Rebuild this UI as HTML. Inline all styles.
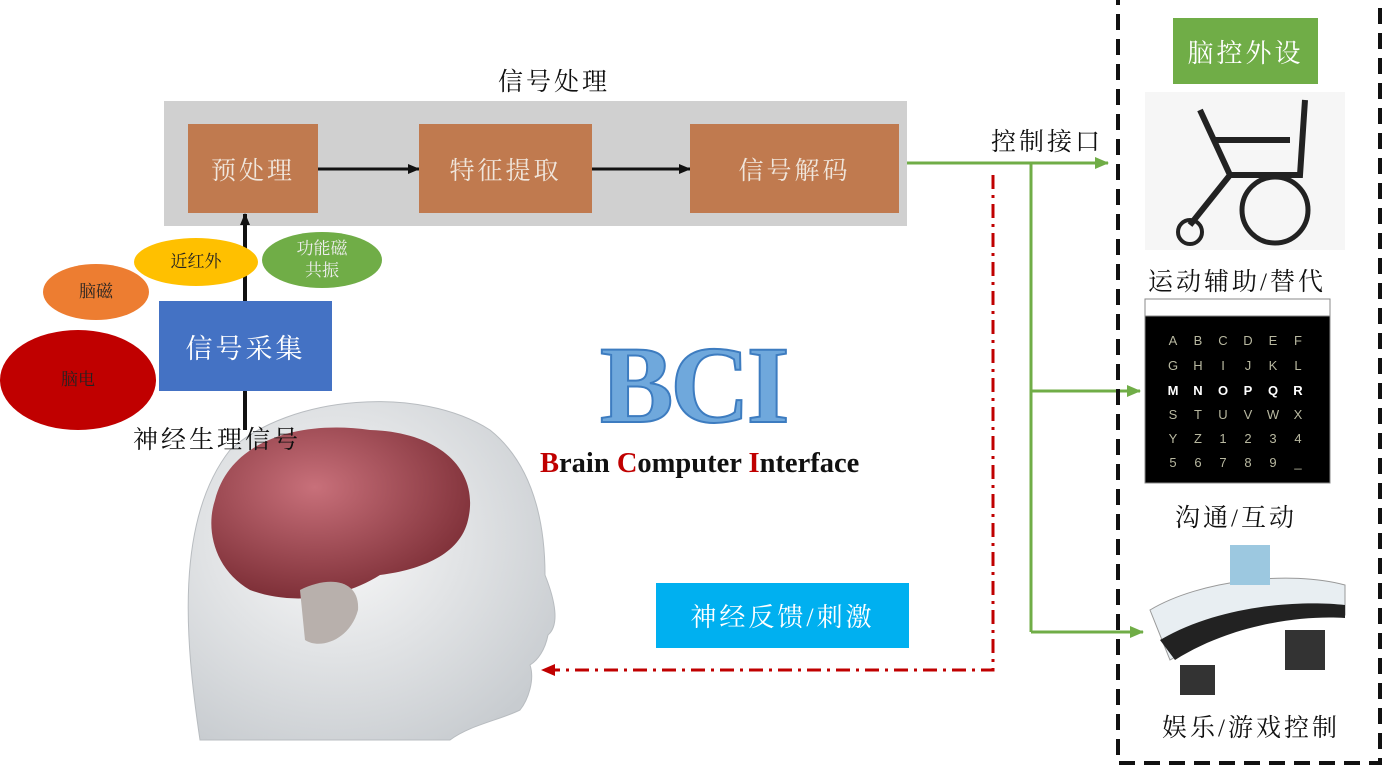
<!DOCTYPE html>
<html><head><meta charset="utf-8"><style>
body{margin:0;width:1386px;height:767px;background:#fff;position:relative;overflow:hidden;font-family:"Liberation Serif","Noto Serif CJK SC","Noto Sans CJK SC",serif}
.a{position:absolute;z-index:1}
.box{position:absolute;z-index:1;display:flex;align-items:center;justify-content:center;color:#f0e6dc;font-size:25px;letter-spacing:3px}
.t{position:absolute;z-index:1;font-size:25px;letter-spacing:3px;color:#111;white-space:nowrap}
.el{position:absolute;z-index:1;border-radius:50%;display:flex;align-items:center;justify-content:center;text-align:center;font-size:17px;line-height:22px}
svg{position:absolute;left:0;top:0;z-index:0}
</style></head><body>
<svg width="1386" height="767">
<defs>
<marker id="ab" markerWidth="12" markerHeight="10" refX="11" refY="5" orient="auto" markerUnits="userSpaceOnUse"><path d="M0,0L12,5L0,10z" fill="#111"/></marker>
<marker id="ag" markerWidth="14" markerHeight="12" refX="13" refY="6" orient="auto" markerUnits="userSpaceOnUse"><path d="M0,0L14,6L0,12z" fill="#70ad47"/></marker>
<marker id="ar" markerWidth="14" markerHeight="12" refX="13" refY="6" orient="auto" markerUnits="userSpaceOnUse"><path d="M0,0L14,6L0,12z" fill="#c00000"/></marker>
<radialGradient id="hg" cx="0.4" cy="0.4" r="0.7"><stop offset="0" stop-color="#fafafa"/><stop offset="1" stop-color="#c8ccd0"/></radialGradient>
<radialGradient id="bg" cx="0.4" cy="0.35" r="0.7"><stop offset="0" stop-color="#c8707a"/><stop offset="1" stop-color="#7a2c34"/></radialGradient>
</defs>
<rect x="164" y="101" width="743" height="125" fill="#d0d0d0"/>
<line x1="318" y1="169" x2="419" y2="169" stroke="#111" stroke-width="3" marker-end="url(#ab)"/>
<line x1="592" y1="169" x2="690" y2="169" stroke="#111" stroke-width="3" marker-end="url(#ab)"/>
<line x1="245" y1="430" x2="245" y2="214" stroke="#111" stroke-width="4" marker-end="url(#ab)"/>
<path d="M200,740 C185,640 175,520 230,450 C290,395 420,385 490,430 C540,470 545,540 545,575 C555,600 560,625 548,635 C545,650 538,660 530,665 C535,680 528,700 520,710 C500,720 470,725 450,740 Z" fill="url(#hg)" stroke="#b8bcc0"/>
<path d="M215,500 C230,440 300,420 370,430 C440,432 480,470 468,520 C460,555 420,570 380,575 C340,600 290,605 250,590 C215,570 205,530 215,500 Z" fill="url(#bg)"/>
<path d="M300,590 C330,575 360,580 358,610 C350,640 320,650 305,640 Z" fill="#b8b0ac"/>
<polyline points="907,163 1108,163" fill="none" stroke="#70ad47" stroke-width="3" marker-end="url(#ag)"/>
<line x1="1031" y1="163" x2="1031" y2="632" stroke="#70ad47" stroke-width="3"/>
<line x1="1031" y1="391" x2="1140" y2="391" stroke="#70ad47" stroke-width="3" marker-end="url(#ag)"/>
<line x1="1031" y1="632" x2="1143" y2="632" stroke="#70ad47" stroke-width="3" marker-end="url(#ag)"/>
<polyline points="993,175 993,670 542,670" fill="none" stroke="#c00000" stroke-width="3" stroke-dasharray="14,6,3,6" marker-end="url(#ar)"/>
<rect x="1118" y="-5" width="262" height="768" fill="none" stroke="#111" stroke-width="4" stroke-dasharray="16,9"/>
<rect x="1145" y="92" width="200" height="158" fill="#f6f6f6"/>
<circle cx="1275" cy="210" r="33" fill="none" stroke="#222" stroke-width="5"/>
<circle cx="1190" cy="232" r="12" fill="none" stroke="#222" stroke-width="4"/>
<path d="M1200,110 L1230,175 L1300,175 L1305,100 M1230,175 L1190,225 M1215,140 L1290,140" fill="none" stroke="#222" stroke-width="6"/>
<rect x="1145" y="299" width="185" height="184" fill="#000" stroke="#888"/>
<rect x="1145" y="299" width="185" height="17" fill="#fff" stroke="#888"/>
<g font-family="Liberation Sans,sans-serif" font-size="13" fill="#b8b8a0" text-anchor="middle">
<text x="1173" y="345">A</text><text x="1198" y="345">B</text><text x="1223" y="345">C</text><text x="1248" y="345">D</text><text x="1273" y="345">E</text><text x="1298" y="345">F</text>
<text x="1173" y="370">G</text><text x="1198" y="370">H</text><text x="1223" y="370">I</text><text x="1248" y="370">J</text><text x="1273" y="370">K</text><text x="1298" y="370">L</text>
<g fill="#fff" font-weight="bold"><text x="1173" y="395">M</text><text x="1198" y="395">N</text><text x="1223" y="395">O</text><text x="1248" y="395">P</text><text x="1273" y="395">Q</text><text x="1298" y="395">R</text></g>
<text x="1173" y="419">S</text><text x="1198" y="419">T</text><text x="1223" y="419">U</text><text x="1248" y="419">V</text><text x="1273" y="419">W</text><text x="1298" y="419">X</text>
<text x="1173" y="443">Y</text><text x="1198" y="443">Z</text><text x="1223" y="443">1</text><text x="1248" y="443">2</text><text x="1273" y="443">3</text><text x="1298" y="443">4</text>
<text x="1173" y="467">5</text><text x="1198" y="467">6</text><text x="1223" y="467">7</text><text x="1248" y="467">8</text><text x="1273" y="467">9</text><text x="1298" y="467">_</text>
</g>
<path d="M1150,610 C1200,580 1290,570 1345,585 L1345,615 C1300,610 1220,630 1170,660 Z" fill="#e8eef2" stroke="#999"/>
<path d="M1160,640 C1220,605 1300,600 1345,605 L1345,618 C1300,615 1230,625 1175,660 Z" fill="#222"/>
<rect x="1230" y="545" width="40" height="40" fill="#9cc8e0"/>
<rect x="1285" y="630" width="40" height="40" fill="#333"/>
<rect x="1180" y="665" width="35" height="30" fill="#333"/>
</svg>

<div class="t" style="left:498px;top:62px">信号处理</div>
<div class="box" style="left:188px;top:124px;width:130px;height:89px;background:#c07a4f">预处理</div>
<div class="box" style="left:419px;top:124px;width:173px;height:89px;background:#c07a4f">特征提取</div>
<div class="box" style="left:690px;top:124px;width:209px;height:89px;background:#c07a4f">信号解码</div>

<div class="el" style="left:0;top:330px;width:156px;height:100px;background:#c00000;color:#222">脑电</div>
<div class="el" style="left:43px;top:264px;width:106px;height:56px;background:#ed7d31;color:#222">脑磁</div>
<div class="el" style="left:134px;top:238px;width:124px;height:48px;background:#ffc000;color:#222">近红外</div>
<div class="el" style="left:262px;top:232px;width:120px;height:56px;background:#70ad47;color:#eee">功能磁<br>共振</div>
<div class="box" style="left:159px;top:301px;width:173px;height:90px;background:#4472c4;color:#fff;font-size:27px">信号采集</div>
<div class="t" style="left:133px;top:420px">神经生理信号</div>

<div class="t" style="left:991px;top:122px">控制接口</div>
<div class="box" style="left:1173px;top:18px;width:145px;height:66px;background:#70ad47;color:#fff;font-size:26px">脑控外设</div>
<div class="t" style="left:1148px;top:262px">运动辅助/替代</div>
<div class="t" style="left:1175px;top:498px">沟通/互动</div>
<div class="t" style="left:1162px;top:708px">娱乐/游戏控制</div>

<div class="a" style="left:600px;top:325px;font-family:'Liberation Serif',serif;font-weight:bold;font-size:110px;color:#6fa8dc;-webkit-text-stroke:2px #3d7cc0;letter-spacing:-3px;line-height:120px">BCI</div>
<div class="a" style="left:540px;top:448px;font-family:'Liberation Serif',serif;font-weight:bold;font-size:28.5px;color:#111;white-space:nowrap"><span style="color:#c00000">B</span>rain <span style="color:#c00000">C</span>omputer <span style="color:#c00000">I</span>nterface</div>

<div class="box" style="left:656px;top:583px;width:253px;height:65px;background:#00b0f0;color:#fff;font-size:26px">神经反馈/刺激</div>
</body></html>
